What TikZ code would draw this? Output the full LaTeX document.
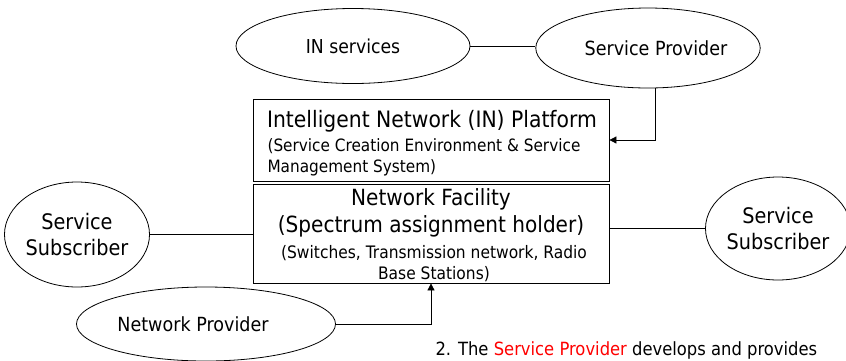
\documentclass[tikz,border=0pt]{standalone}
\usepackage{fontspec}
\setmainfont{DejaVu Sans}[FakeStretch=0.9]
\usetikzlibrary{shapes.geometric,arrows.meta}
\begin{document}
\begin{tikzpicture}[x=1pt,y=-1pt,
  oval/.style={draw,ellipse,line width=0.8pt,inner sep=0pt},
  box/.style={draw,line width=0.8pt,minimum width=356pt,inner sep=0pt},
  conn/.style={line width=0.8pt},
  arr/.style={line width=0.8pt,-{Triangle[length=7pt,width=7pt]}}]
\useasboundingbox (0,0) rectangle (846,360);
\node[oval,minimum width=234pt,minimum height=75pt,font=\fontsize{19.2}{22}\selectfont] (ins) at (353,46) {IN services};
\node[oval,minimum width=224pt,minimum height=80pt,font=\fontsize{19.5}{22}\selectfont] (sp) at (648,48) {\hspace*{16pt}Service Provider};
\node[box,minimum height=82pt] (inp) at (431,140) {};
\node[box,minimum height=99pt] (nf) at (431,233.5) {};
\node[font=\fontsize{22.6}{26}\selectfont] (inpt) at (432,121) {Intelligent Network (IN) Platform};
\node[font=\fontsize{17}{21}\selectfont,align=left,anchor=north west] (inps) at (264,135) {(Service Creation Environment \& Service\\Management System)};
\node[font=\fontsize{22.3}{27}\selectfont,align=center] (nft) at (431,212.5) {Network Facility\\(Spectrum assignment holder)};
\node[font=\fontsize{17.2}{20.5}\selectfont,align=center] (nfs) at (434,263.5) {(Switches, Transmission network, Radio\\Base Stations)};
\node[oval,minimum width=137pt,minimum height=105pt,font=\fontsize{21.4}{26}\selectfont,align=center] (ssl) at (77,234.5) {Service\\Subscriber};
\node[oval,minimum width=122pt,minimum height=103pt,font=\fontsize{21.4}{26}\selectfont,align=center] (ssr) at (778,228.5) {Service\\Subscriber};
\node[oval,minimum width=259pt,minimum height=74pt,font=\fontsize{19.5}{22}\selectfont] (np) at (206,324) {Network Provider\hspace*{26pt}};
\node[font=\fontsize{18.2}{21}\selectfont,anchor=base west] (note) at (432,355) {2. The \textcolor{red}{Service Provider} develops and provides};
\draw[conn] (ins.east) -- (ins.east -| sp.west);
\draw[arr] (sp.south) ++(7,0) coordinate (spb) |- (inp.east);
\draw[conn] (ssl.east) -- (ssl.east -| nf.west);
\draw[conn] (ssr.west -| nf.east) -- (ssr.west);
\draw[arr] (np.east) -| (nf.south);
\end{tikzpicture}
\end{document}
